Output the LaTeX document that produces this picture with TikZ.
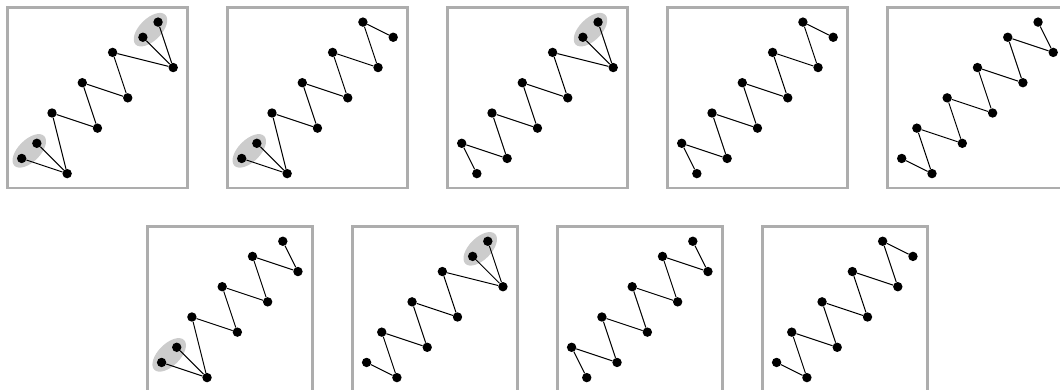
\documentclass[tikz,border=0pt]{standalone}
\usetikzlibrary{shapes.geometric}
\definecolor{framegray}{HTML}{ADADAD}
\definecolor{blobgray}{HTML}{CCCCCC}
\tikzset{
  dot/.style={circle,fill=black,draw=none,inner sep=0pt,minimum size=9.4pt},
  edge/.style={line width=1pt,black},
  frame/.style={draw=framegray,line width=2.8pt},
  blob/.style={fill=blobgray},
  lat/.style={x=15.15pt,y=-15.15pt}
}
\newcommand{\panelnodes}[2]{\foreach \n/\px/\py in {#2} \node[dot] (#1\n) at (\px,\py) {};}
\newcommand{\paneledges}[2]{\foreach \u/\v in {#2} \draw[edge] (#1\u) -- (#1\v);}
\newcommand{\blobat}[2]{\fill[blob,rotate around={45:(#1,#2)}] (#1,#2) ellipse [x radius=21pt,y radius=11pt];}
\begin{document}
\begin{tikzpicture}
\useasboundingbox (0,0) rectangle (1060pt,389pt);
% ---------- top row ----------
\begin{scope}[lat,shift={(21.7pt,245.7pt)}]
  \draw[frame] (-0.95,-8.95) rectangle (10.95,2.95);
  \blobat{0.5}{0.5}
  \blobat{8.5}{-7.5}
  \panelnodes{A}{a/0/1,b/1/0,c/3/2,d/2/-2,e/5/-1,f/4/-4,g/7/-3,h/6/-6,k/10/-5,m/8/-7,n/9/-8}
  \paneledges{A}{a/c,b/c,c/d,d/e,e/f,f/g,g/h,h/k,k/m,k/n}
\end{scope}
\begin{scope}[lat,shift={(241.7pt,245.7pt)}]
  \draw[frame] (-0.95,-8.95) rectangle (10.95,2.95);
  \blobat{0.5}{0.5}
  \panelnodes{B}{a/0/1,b/1/0,c/3/2,d/2/-2,e/5/-1,f/4/-4,g/7/-3,h/6/-6,k/9/-5,m/8/-8,n/10/-7}
  \paneledges{B}{a/c,b/c,c/d,d/e,e/f,f/g,g/h,h/k,k/m,m/n}
\end{scope}
\begin{scope}[lat,shift={(461.7pt,245.7pt)}]
  \draw[frame] (-0.95,-8.95) rectangle (10.95,2.95);
  \blobat{8.5}{-7.5}
  \panelnodes{C}{a/1/2,b/0/0,c/3/1,d/2/-2,e/5/-1,f/4/-4,g/7/-3,h/6/-6,k/10/-5,m/8/-7,n/9/-8}
  \paneledges{C}{a/b,b/c,c/d,d/e,e/f,f/g,g/h,h/k,k/m,k/n}
\end{scope}
\begin{scope}[lat,shift={(681.7pt,245.7pt)}]
  \draw[frame] (-0.95,-8.95) rectangle (10.95,2.95);
  \panelnodes{D}{a/1/2,b/0/0,c/3/1,d/2/-2,e/5/-1,f/4/-4,g/7/-3,h/6/-6,k/9/-5,m/8/-8,n/10/-7}
  \paneledges{D}{a/b,b/c,c/d,d/e,e/f,f/g,g/h,h/k,k/m,m/n}
\end{scope}
\begin{scope}[lat,shift={(901.7pt,245.7pt)}]
  \draw[frame] (-0.95,-8.95) rectangle (10.95,2.95);
  \panelnodes{E}{a/0/1,b/2/2,c/1/-1,d/4/0,e/3/-3,f/6/-2,g/5/-5,h/8/-4,k/7/-7,m/10/-6,n/9/-8}
  \paneledges{E}{a/b,b/c,c/d,d/e,e/f,f/g,g/h,h/k,k/m,m/n}
\end{scope}
% ---------- bottom row ----------
\begin{scope}[lat,shift={(161.6pt,41.7pt)}]
  \draw[frame] (-0.95,-7.95) rectangle (9.95,2.95);
  \blobat{0.5}{0.5}
  \panelnodes{F}{a/0/1,b/1/0,c/3/2,d/2/-2,e/5/-1,f/4/-4,g/7/-3,h/6/-6,k/9/-5,m/8/-7}
  \paneledges{F}{a/c,b/c,c/d,d/e,e/f,f/g,g/h,h/k,k/m}
\end{scope}
\begin{scope}[lat,shift={(366.6pt,41.7pt)}]
  \draw[frame] (-0.95,-7.95) rectangle (9.95,2.95);
  \blobat{7.5}{-6.5}
  \panelnodes{G}{a/0/1,b/2/2,c/1/-1,d/4/0,e/3/-3,f/6/-2,g/5/-5,h/9/-4,k/7/-6,m/8/-7}
  \paneledges{G}{a/b,b/c,c/d,d/e,e/f,f/g,g/h,h/k,h/m}
\end{scope}
\begin{scope}[lat,shift={(571.6pt,41.7pt)}]
  \draw[frame] (-0.95,-7.95) rectangle (9.95,2.95);
  \panelnodes{H}{a/1/2,b/0/0,c/3/1,d/2/-2,e/5/-1,f/4/-4,g/7/-3,h/6/-6,k/9/-5,m/8/-7}
  \paneledges{H}{a/b,b/c,c/d,d/e,e/f,f/g,g/h,h/k,k/m}
\end{scope}
\begin{scope}[lat,shift={(776.6pt,41.7pt)}]
  \draw[frame] (-0.95,-7.95) rectangle (9.95,2.95);
  \panelnodes{J}{a/0/1,b/2/2,c/1/-1,d/4/0,e/3/-3,f/6/-2,g/5/-5,h/8/-4,k/7/-7,m/9/-6}
  \paneledges{J}{a/b,b/c,c/d,d/e,e/f,f/g,g/h,h/k,k/m}
\end{scope}
\end{tikzpicture}
\end{document}
